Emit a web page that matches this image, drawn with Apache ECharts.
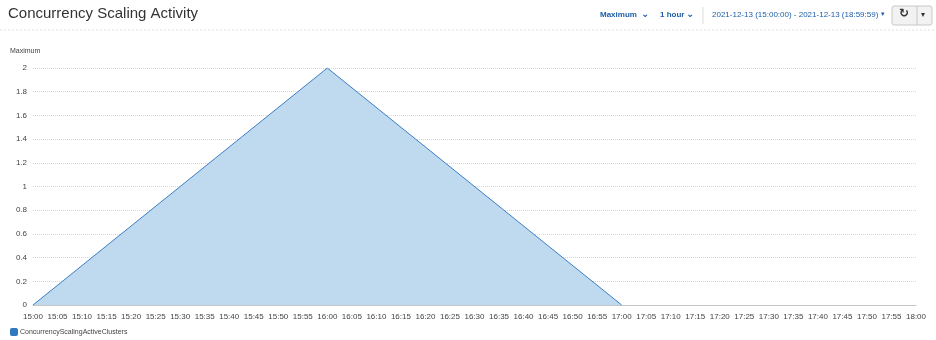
<!DOCTYPE html>
<html><head><meta charset="utf-8">
<script src="https://cdn.jsdelivr.net/npm/echarts@6/dist/echarts.min.js"></script>
<style>html,body{margin:0;padding:0;background:#fff}#c{width:936px;height:340px}</style>
</head><body><div id="c"></div>
<script>
// categories: 5-minute ticks from 15:00 to 18:00
const categories = ["15:00","15:05","15:10","15:15","15:20","15:25","15:30","15:35","15:40","15:45","15:50","15:55",
"16:00","16:05","16:10","16:15","16:20","16:25","16:30","16:35","16:40","16:45","16:50","16:55",
"17:00","17:05","17:10","17:15","17:20","17:25","17:30","17:35","17:40","17:45","17:50","17:55","18:00"];
// hourly datapoints (time label, value)
const pointTimes = ["15:00","16:00","17:00"];
const pointValues = [0, 2, 0];
const seriesName = "ConcurrencyScalingActiveClusters";

const data = pointTimes.map((t,i)=>[categories.indexOf(t), pointValues[i]]);
const font = "'Liberation Sans', Arial, sans-serif";
const chart = echarts.init(document.getElementById('c'), null, {renderer:'canvas'});
chart.setOption({
  animation:false,
  textStyle:{fontFamily:font},
  grid:{left:33,right:20,top:68,bottom:35},
  xAxis:{type:'category',data:categories,boundaryGap:false,
    axisLine:{lineStyle:{color:'#c4c4c4'}},axisTick:{show:false},
    axisLabel:{interval:0,color:'#444',fontSize:8,margin:8,fontFamily:font},
    splitLine:{show:false}},
  yAxis:{type:'value',min:0,max:2,interval:0.2,
    axisLine:{show:false},axisTick:{show:false},
    axisLabel:{color:'#444',fontSize:8,margin:6,fontFamily:font,formatter:v=>String(Math.round(v*10)/10)},
    splitLine:{lineStyle:{type:'dotted',color:'#cfd8df'}}},
  series:[{name:seriesName,type:'line',data:data,symbol:'none',
    lineStyle:{color:'#3b7fc4',width:1},
    areaStyle:{color:'#bfd9ee',opacity:1},itemStyle:{color:'#2f78bd'}}],
  legend:{show:true,left:5,top:323,itemWidth:8,itemHeight:8,icon:'roundRect',itemGap:4,
    textStyle:{fontSize:7,color:'#444',fontFamily:font,padding:[0,0,0,-3]},data:[seriesName]},
  graphic:[
    {type:'text',left:8,top:6,style:{text:'Concurrency Scaling Activity',fontSize:15,fill:'#333',fontFamily:font}},
    {type:'line',shape:{x1:0,y1:30,x2:936,y2:30},style:{stroke:'#e2e2e2',lineWidth:1,lineDash:[2,2]}},
    {type:'text',left:10,top:48,style:{text:'Maximum',fontSize:7,fill:'#444',fontFamily:font}},
    {type:'text',left:600,top:11,style:{text:'Maximum',fontSize:8,fontWeight:'bold',fill:'#1f5ea8',fontFamily:font}},
    {type:'text',left:641,top:9,style:{text:'\u2304',fontSize:10,fontWeight:'bold',fill:'#1f5ea8',fontFamily:"'DejaVu Sans'"}},
    {type:'text',left:660,top:11,style:{text:'1 hour',fontSize:8,fontWeight:'bold',fill:'#1f5ea8',fontFamily:font}},
    {type:'text',left:686,top:9,style:{text:'\u2304',fontSize:10,fontWeight:'bold',fill:'#1f5ea8',fontFamily:"'DejaVu Sans'"}},
    {type:'line',shape:{x1:703,y1:7,x2:703,y2:24},style:{stroke:'#ddd',lineWidth:1}},
    {type:'text',left:712,top:11,style:{text:'2021-12-13 (15:00:00) - 2021-12-13 (18:59:59)',fontSize:8,fill:'#1f5ea8',fontFamily:font}},
    {type:'text',left:881,top:11,style:{text:'\u25BE',fontSize:7,fill:'#1f5ea8',fontFamily:"'DejaVu Sans'"}},
    {type:'rect',shape:{x:892,y:6,width:40,height:19,r:2},style:{fill:'#f2f2f2',stroke:'#c8c8c8',lineWidth:1}},
    {type:'line',shape:{x1:917,y1:6,x2:917,y2:25},style:{stroke:'#c8c8c8',lineWidth:1}},
    {type:'text',left:899,top:8,style:{text:'\u21BB',fontSize:12,fontWeight:'bold',fill:'#333',fontFamily:"'DejaVu Sans'"}},
    {type:'text',left:921,top:11,style:{text:'\u25BE',fontSize:8,fill:'#333',fontFamily:"'DejaVu Sans'"}}
  ]
});
</script></body></html>
